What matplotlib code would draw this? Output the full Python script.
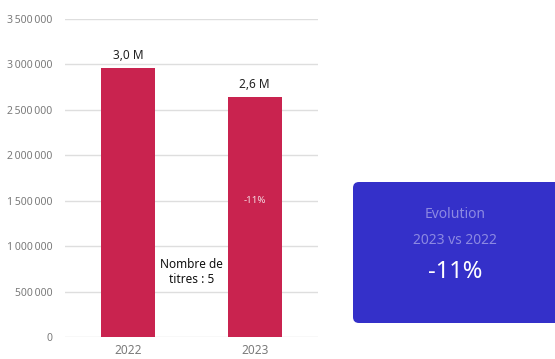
import matplotlib

matplotlib.use("Agg")

import matplotlib.pyplot as plt
import numpy as np
from matplotlib.patches import FancyBboxPatch
from matplotlib.ticker import FuncFormatter

plt.rcParams["font.family"] = ["Noto Sans", "DejaVu Sans"]

# data
years = ["2022", "2023"]
values = [2_960_000, 2_640_000]
n_titles = 5
evolution = round((values[1] / values[0] - 1) * 100)

BAR = "#C9234F"
BOX = "#3430C9"
GRID = "#DEDEDE"
TICK = "#7A7A7A"


def fmt_m(v):
    return f"{v / 1e6:.1f} M".replace(".", ",")


def fmt_tick(v, _pos):
    return f"{int(v):,}".replace(",", "\u2009")


fig = plt.figure(figsize=(5.55, 3.59), dpi=100)
ax = fig.add_axes([65 / 555, 22 / 359, 253 / 555, 318 / 359])

x = np.arange(len(years))
ax.bar(x, values, width=0.43, color=BAR, zorder=2)
for xi, v in zip(x, values):
    ax.text(xi, v + 70_000, fmt_m(v), ha="center", va="bottom",
            fontsize=8.5, color="#222222")
ax.text(x[1], 1_500_000, f"{evolution}%", ha="center", va="center",
        fontsize=7, color="#F4D6DE")
ax.text(0.5, 720_000, f"Nombre de\ntitres : {n_titles}", ha="center",
        va="center", fontsize=8.5, color="#111111", linespacing=1.2)

ax.set_xlim(-0.5, 1.5)
ax.set_ylim(0, 3_500_000)
ax.set_yticks(np.arange(0, 3_500_001, 500_000))
ax.yaxis.set_major_formatter(FuncFormatter(fmt_tick))
ax.set_xticks(x)
ax.set_xticklabels(years)
ax.tick_params(length=0, colors=TICK, labelsize=7.5)
ax.tick_params(axis="x", labelsize=8.5, pad=5)
ax.tick_params(axis="y", pad=9)
ax.grid(axis="y", color=GRID, lw=1, zorder=0)
for s in ax.spines.values():
    s.set_visible(False)

# KPI card on the right, drawn in pixel coordinates
card = fig.add_axes([0, 0, 1, 1], zorder=3)
card.set_xlim(0, 555)
card.set_ylim(359, 0)
card.axis("off")
card.add_patch(FancyBboxPatch((353, 182), 215, 141,
                              boxstyle="round,pad=0,rounding_size=6",
                              fc=BOX, ec="none"))
card.text(455, 215, "Evolution", ha="center", va="center", fontsize=10,
          color="#8C89E2", fontweight="light")
card.text(455, 240, "2023 vs 2022", ha="center", va="center", fontsize=10,
          color="#8C89E2", fontweight="light")
card.text(455, 272, f"{evolution}%", ha="center", va="center", fontsize=17,
          color="white")

fig.savefig("out.png", dpi=100)
